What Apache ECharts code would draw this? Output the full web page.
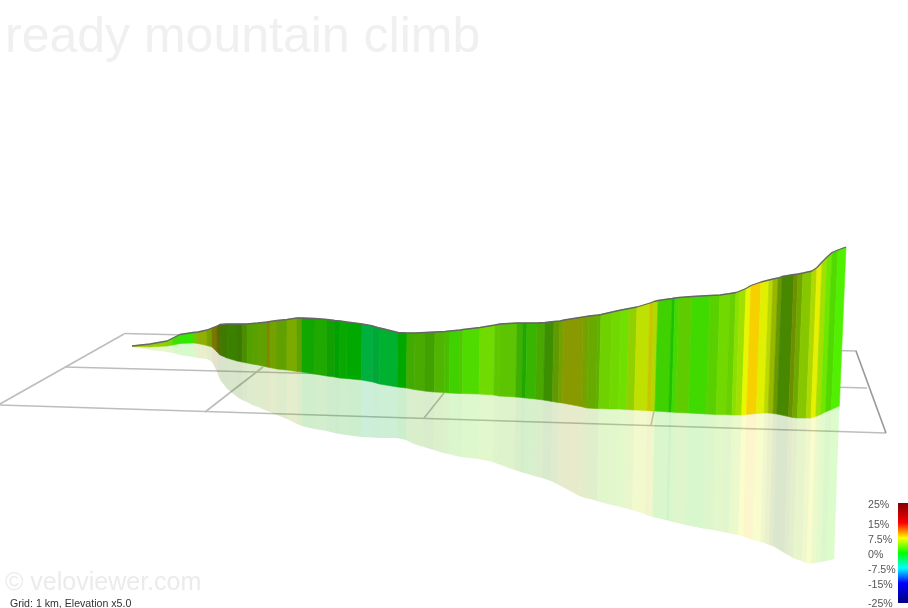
<!DOCTYPE html>
<html><head><meta charset="utf-8">
<style>html,body{margin:0;padding:0;background:#fff}#c{width:908px;height:608px}</style>
<script src="https://cdn.jsdelivr.net/npm/echarts@6/dist/echarts.min.js"></script>
</head><body><div id="c"></div>
<script>
// Projected position of each gradient-band edge, along the climb
var edgeAlong = [132,150,167,173,180,193,198,207,212,217,220,227,237,242,247,252,258,267,270,277,287,297,302,315,327,335,340,347,362,373,380,398,407,415,425,435,445,450,460,463,480,495,500,517,523,527,537,545,554,560,564,583,589,598,601,612,621,629,637,650,654,658,672,675,679,692,710,720,730,736,740,746,751,761,769,773,778,782,794,798,803,812,817,822,827,832,838,846];
// Projected height of the road surface at each edge
var roadLevel = [346,344,341,338,334.5,332.5,332,330,328,326,324.5,324,324,324,324,323.5,323,322,321.5,320.5,319.5,318,318,318.5,319.5,320.5,321,322,324,326,328,332.5,333,333,332.5,332,331.5,331,330,329.5,327.5,325,324,323,323,323,323,322.5,321.5,321,320,317,316,315,314.5,312,310,308.5,307,303,301.5,300.5,298.5,298,297.5,296.5,295.5,295,293.5,292.5,291,288.5,285.5,282,280,279,278,276.5,274.5,274,273,271,267.5,262,257,252.5,250,247];
// Projected height of the wall foot at each edge
var groundLevel = [346.5,347,346,345,343.5,343,343.5,345.5,347,352,355,358,361,362,363,364,365,367,367.5,369,370,371.5,372,374,376,377,378,378.5,380,382,384,387,388,389.5,391,392,392.5,393,393.5,393.5,394,395,396,397,397.5,398,399,400,401.5,402.5,403,406.5,408,408.5,408.5,409,409,409.5,410,410.5,411,411,412,412,412.5,413,414,414.5,414.5,415,415,415,414.5,413.5,413,413,413.5,414,416.5,417.5,418,418,418,416.5,414.5,412,409.5,406];
// Projected depth of the mirrored wall at each edge
var mirrorLevel = [347,350,352,353,355,357,358,359,362,372,380,389,397,400,402,405,407,411,412,415,419,424,426,429,431,433,434,435,437,437.5,438,438,440,444,447,450,453,454,456.5,457,459,462,464,470,472,473,476,478,481,484,486,496,498,500,501,504,506,508,510,514,516,517,520,521,522,525,528.5,530,532,533,534,535,536.5,540,542,543,545,546,553,555,558,561,563,563.5,563,562,561,559];
// Road gradient (%) and wall lighting of each band
var bandGrade = [6,5.2,3.9,2.1,1.6,4.2,6.1,5.6,7.5,6.9,4,3.5,3.6,4,3.8,4.2,4.5,7.1,5.3,4.5,5.4,4.5,0.7,1.4,0.75,0,0.36,0,-2.7,-2.5,-2,0,2.8,3.2,3,3.3,2.9,2.3,3,2.7,3.8,3.6,3.5,2.7,1.4,2.3,3.2,3.1,4.7,5.3,6.7,5.6,4.5,4.1,4,3.9,3.75,5.2,6.4,7.5,6.1,2.3,1.25,2.2,3.5,2.2,3.2,3.9,3.75,4.6,5.4,7,8.7,7,6.4,6.2,5.1,4,5.8,5,5.1,6.1,7.2,5.4,3.6,2.8,2.5];
var bandLight = [.78,.82,.85,.88,.91,.78,.69,.63,.47,.41,.47,.5,.48,.55,.63,.63,.63,.53,.63,.63,.67,.63,.66,.66,.63,.63,.66,.66,.69,.66,.69,.66,.67,.67,.63,.71,.74,.82,.78,.86,.86,.78,.77,.69,.66,.71,.66,.56,.6,.63,.6,.63,.67,.69,.82,.85,.88,.82,.88,.78,.85,.82,.75,.85,.8,.85,.82,.85,.82,.88,.88,.97,.97,.94,.85,.72,.6,.53,.56,.66,.78,.85,.94,.88,.91,.85,.94];
// Ground grid segments: from x, from y, to x, to y
var gridLeft   = [[124,334],[0,404]];
var gridBack   = [[124,333.5],[857,351]];
var gridInner  = [[65,367],[867,388]];
var gridFront  = [[0,405],[886,433]];
var gridRight  = [[856,351],[886,433]];
var gridCrossA = [[205,412],[263,367]];
var gridCrossB = [[424,418],[444,393]];
var gridCrossC = [[651,425.5],[654,411]];
// Colour scale
var scaleGrades = [25,15,7.5,0,-7.5,-15,-25];
var scaleColors = ['#800000','#ff0000','#ffff00','#00ff00','#00ffff','#0000ff','#000080'];

var titleText = 'ready mountain climb';
var creditText = '\u00a9 veloviewer.com';
var noteText = 'Grid: 1 km, Elevation x5.0';

function hexRgb(h){return [parseInt(h.substr(1,2),16),parseInt(h.substr(3,2),16),parseInt(h.substr(5,2),16)];}
function gradeColor(g,l){
  for(var i=0;i<scaleGrades.length-1;i++){
    if(g<=scaleGrades[i]&&g>=scaleGrades[i+1]){
      var t=(scaleGrades[i]-g)/(scaleGrades[i]-scaleGrades[i+1]);
      var a=hexRgb(scaleColors[i]),b=hexRgb(scaleColors[i+1]);
      return 'rgb('+[0,1,2].map(function(k){return Math.round((a[k]+(b[k]-a[k])*t)*l);}).join(',')+')';
    }
  }
  return '#000';
}
// Perspective: verticals converge below the picture
function lean(x){return (x-270)*7.3e-5;}
function footX(x,top,foot){return x-(foot-top)*lean(x);}
function mirrorX(x,top,foot,mir){return footX(x,top,foot)-(mir-foot)*lean(x)*0.8;}

var rows = bandGrade.map(function(g,i){
  return [edgeAlong[i],roadLevel[i],groundLevel[i],mirrorLevel[i],edgeAlong[i+1],roadLevel[i+1],groundLevel[i+1],mirrorLevel[i+1],g,bandLight[i]];
});
function wallItem(params,api){
  var x0=api.value(0),t0=api.value(1),f0=api.value(2),x1=api.value(4),t1=api.value(5),f1=api.value(6);
  var c=gradeColor(api.value(8),api.value(9));
  var pts=[[x0,t0],[x1,t1],[footX(x1,t1,f1),f1],[footX(x0,t0,f0),f0]].map(function(p){return api.coord(p);});
  return {type:'polygon',shape:{points:pts},style:{fill:c,stroke:c,lineWidth:0.6}};
}
function mirrorItem(params,api){
  var x0=api.value(0),t0=api.value(1),f0=api.value(2),m0=api.value(3),x1=api.value(4),t1=api.value(5),f1=api.value(6),m1=api.value(7);
  var c=gradeColor(api.value(8),api.value(9));
  var pts=[[footX(x0,t0,f0),f0],[footX(x1,t1,f1),f1],[mirrorX(x1,t1,f1,m1),m1],[mirrorX(x0,t0,f0,m0),m0]].map(function(p){return api.coord(p);});
  return {type:'polygon',shape:{points:pts},style:{fill:c,opacity:0.2}};
}
function gridSeries(seg,color,w){
  return {type:'line',xAxisIndex:0,yAxisIndex:0,data:seg,showSymbol:false,silent:true,animation:false,
    lineStyle:{color:color,width:w},z:1};
}
var sans='"Liberation Sans",Arial,sans-serif';
var chart=echarts.init(document.getElementById('c'),null,{renderer:'canvas'});
chart.setOption({
  animation:false,
  backgroundColor:'#fff',
  title:[
    {text:titleText,left:5,top:13,padding:0,textStyle:{fontFamily:sans,fontSize:50,fontWeight:'normal',color:'#f0f0f0'}},
    {text:creditText,left:5,top:571,padding:0,textStyle:{fontFamily:sans,fontSize:25,fontWeight:'normal',color:'#ebebeb'}},
    {text:noteText,left:10,top:599,padding:0,textStyle:{fontFamily:sans,fontSize:10.6,fontWeight:'normal',color:'#333'}}
  ],
  grid:[
    {left:0,right:0,top:0,bottom:0,outerBoundsMode:'none'},
    {left:898,width:10,top:505.5,height:99,outerBoundsMode:'none'},
    {left:898,width:10,top:503,height:100,outerBoundsMode:'none'}
  ],
  xAxis:[
    {type:'value',gridIndex:0,min:0,max:908,show:false},
    {type:'value',gridIndex:1,min:0,max:1,show:false},
    {type:'value',gridIndex:2,min:0,max:1,show:false}
  ],
  yAxis:[
    {type:'value',gridIndex:0,min:0,max:608,inverse:true,show:false},
    {type:'value',gridIndex:1,min:-25,max:25,position:'left',splitLine:{show:false},axisLine:{show:false},
     axisTick:{show:false},
     axisLabel:{customValues:scaleGrades,formatter:function(v){return v+'%';},align:'left',margin:30,
       fontFamily:sans,fontSize:10.6,color:'#555',hideOverlap:false,showMinLabel:true,showMaxLabel:true}},
    {type:'value',gridIndex:2,min:-25,max:25,show:false}
  ],
  series:[
    gridSeries(gridLeft,'#bdbdbd',1.6),gridSeries(gridBack,'#bdbdbd',1.6),gridSeries(gridInner,'#bdbdbd',1.6),
    gridSeries(gridFront,'#bdbdbd',1.6),gridSeries(gridRight,'#999999',1.6),
    gridSeries(gridCrossA,'#bdbdbd',1.6),gridSeries(gridCrossB,'#bdbdbd',1.6),gridSeries(gridCrossC,'#bdbdbd',1.6),
    {type:'custom',silent:true,z:2,data:rows,renderItem:mirrorItem,clip:false},
    {type:'custom',silent:true,z:3,data:rows,renderItem:wallItem,clip:false},
    {type:'line',silent:true,z:4,showSymbol:false,data:edgeAlong.map(function(x,i){return [x,roadLevel[i]];}),
      lineStyle:{color:'#666666',width:1.3}},
    {type:'custom',silent:true,xAxisIndex:2,yAxisIndex:2,z:3,data:[[0,25,1,-25]],clip:false,
      renderItem:function(p,api){
        var a=api.coord([api.value(0),api.value(1)]),b=api.coord([api.value(2),api.value(3)]);
        var stops=scaleGrades.map(function(g,i){return {offset:(25-g)/50,color:scaleColors[i]};});
        return {type:'rect',shape:{x:a[0],y:a[1],width:b[0]-a[0],height:b[1]-a[1]},
          style:{fill:new echarts.graphic.LinearGradient(0,0,0,1,stops)}};
      }}
  ]
});
</script></body></html>
